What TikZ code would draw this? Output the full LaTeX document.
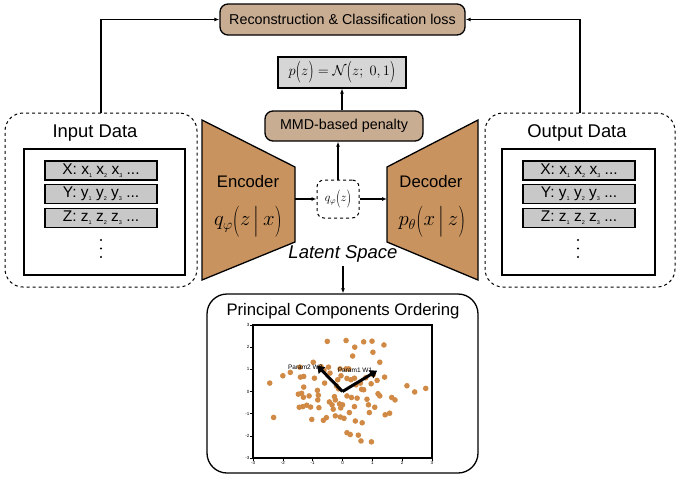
\documentclass[tikz,border=0pt]{standalone}
\usepackage{fontspec}
\setmainfont{Liberation Sans}
\setsansfont{Liberation Sans}
\usepackage{graphicx}
\usetikzlibrary{arrows.meta}
\definecolor{tanbox}{HTML}{C9AD93}
\definecolor{encfill}{HTML}{C9935F}
\definecolor{rowgray}{HTML}{C8C8C8}
\definecolor{dotc}{HTML}{D08A45}
\definecolor{pzgray}{HTML}{D6D6D6}
\newcommand{\mysb}[1]{\raisebox{-3pt}{\fontsize{5.5}{5.5}\selectfont #1}}
\newcommand{\tdel}[1]{\mathord{\raisebox{-0.35ex}{\scalebox{1}[1.5]{$#1$}}}}
\begin{document}
\begin{tikzpicture}[x=1pt,y=-1pt,
  arr/.style={-{Latex[length=5pt,width=4pt]}, line width=1.2pt},
  tanstyle/.style={draw, line width=1.3pt, fill=tanbox, rounded corners=8pt, font=\fontsize{14.3}{16}\selectfont},
  dashbox/.style={draw, dashed, line width=1pt, rounded corners=18pt},
  innerbox/.style={draw, line width=2.2pt, fill=white},
  rowbox/.style={draw, line width=1.2pt, fill=rowgray, minimum width=112pt, minimum height=19pt, inner sep=0pt, font=\fontsize{15.5}{16}\selectfont},
  titletext/.style={font=\fontsize{18.4}{20}\selectfont},
  bigmath/.style={font=\fontsize{21}{24}\selectfont}
]
\useasboundingbox (0,0) rectangle (680,480);

% top loss box
\node[tanstyle, minimum width=245pt, minimum height=31pt, inner sep=0pt] (loss) at (342.5,19.5) {Reconstruction \& Classification loss};
% prior box
\node[draw, line width=1.2pt, fill=pzgray, minimum width=128pt, minimum height=31pt, inner sep=0pt] (pz) at (342,72.5)
  {\fontsize{14}{16}\selectfont $p\tdel{(}z\tdel{)}=\mathcal{N}\tdel{(}z;\ 0,1\tdel{)}$};
% MMD box
\node[tanstyle, minimum width=158pt, minimum height=30pt, inner sep=0pt] (mmd) at (344,126) {MMD-based penalty};

% input data
\node[dashbox, minimum width=192pt, minimum height=174pt] (inbox) at (101,200) {};
\node[titletext] (intitle) at (95,133) {Input Data};
\node[innerbox, minimum width=161pt, minimum height=126pt] (ininner) at (104.5,212) {};
\node[rowbox] (inx) at (101,170.5) {X: x\mysb{1} x\mysb{2} x\mysb{3} ...};
\node[rowbox] (iny) at (101,194) {Y: y\mysb{1} y\mysb{2} y\mysb{3} ...};
\node[rowbox] (inz) at (101,218) {Z: z\mysb{1} z\mysb{2} z\mysb{3} ...};
\foreach \yy in {240,248.5,257} \fill (101,\yy) circle[radius=1.1pt];

% output data
\node[dashbox, minimum width=190pt, minimum height=174pt] (outbox) at (580,200) {};
\node[titletext] (outtitle) at (577,133) {Output Data};
\node[innerbox, minimum width=153pt, minimum height=126pt] (outinner) at (578.5,212) {};
\node[rowbox] (outx) at (579,170.5) {X: x\mysb{1} x\mysb{2} x\mysb{3} ...};
\node[rowbox] (outy) at (579,194) {Y: y\mysb{1} y\mysb{2} y\mysb{3} ...};
\node[rowbox] (outz) at (579,218) {Z: z\mysb{1} z\mysb{2} z\mysb{3} ...};
\foreach \yy in {240,248.5,257} \fill (578,\yy) circle[radius=1.1pt];

% encoder / decoder
\draw[fill=encfill, line width=1.3pt] (202,120) -- (295,167) -- (295,242) -- (202,280) -- cycle;
\draw[fill=encfill, line width=1.3pt] (478,120) -- (387,167) -- (387,242) -- (478,280) -- cycle;
\coordinate (encR) at (295,199);
\coordinate (decL) at (387,199);
\node[font=\fontsize{16.7}{18}\selectfont] (enclbl) at (248,182) {Encoder};
\node[bigmath] (encmath) at (248,222) {$q_{\varphi}\tdel{(}z\,\tdel{|}\,x\tdel{)}$};
\node[font=\fontsize{16.7}{18}\selectfont] (declbl) at (431,182) {Decoder};
\node[bigmath] (decmath) at (432,222) {$p_{\theta}\tdel{(}x\,\tdel{|}\,z\tdel{)}$};

% latent
\node[draw, dashed, line width=1pt, rounded corners=7pt, minimum width=42pt, minimum height=38pt, inner sep=0pt] (q) at (338,199)
  {\fontsize{12}{14}\selectfont $q_{\varphi}\tdel{(}z\tdel{)}$};
\node[font=\fontsize{18.5}{21}\selectfont\itshape] (latent) at (343,254) {Latent Space};

% PCO box
\node[draw, line width=1.3pt, rounded corners=20pt, minimum width=271pt, minimum height=179pt] (pco) at (342.5,383.5) {};
\node[font=\fontsize{16.7}{18}\selectfont] (pcotitle) at (343,311) {Principal Components Ordering};

% connectors
\draw[arr] (inbox.north) |- (loss.west);
\draw[arr] (outbox.north) |- (loss.east);
\draw[arr] (mmd.north -| pz.south) -- (pz.south);
\draw[arr] (q.north) -- (q.north |- mmd.south);
\draw[arr] (encR) -- (q.west);
\draw[arr] (q.east) -- (decL);
\draw[arr] (latent.south) -- (latent.south |- pco.north);

% scatter plot
\begin{scope}[shift={(342.5pt,-391.5pt)}, x=29.83pt, y=22.17pt]
  \draw[line width=1.3pt] (-3,-3) rectangle (3,3);
  \foreach \t in {-3,...,3} {
    \draw[line width=0.4pt] (\t,-3) -- (\t,-3.12);
    \node[font=\fontsize{4.5}{5}\selectfont, inner sep=0.5pt, anchor=north] at (\t,-3.12) {\t};
    \draw[line width=0.4pt] (-3,\t) -- (-3.1,\t);
    \node[font=\fontsize{4.5}{5}\selectfont, inner sep=0.5pt, anchor=east] at (-3.1,\t) {\t};
  }
  \foreach \a/\b in {
   -2.44/0.38, -2.31/-1.17, -2.0/0.71, -1.75/0.86, -1.43/1.1, -1.41/0.65, -1.3/0.2,
   -1.37/-0.08, -1.48/-0.12, -1.45/-0.71, -1.33/-0.68, -1.31/-0.26, -1.12/-0.2,
   -1.07/-0.7, -1.03/-1.26, -0.98/1.32, -0.94/0.6, -0.84/0.05, -0.81/-0.17,
   -0.83/-0.38, -0.79/-0.73, -0.72/1.12, -0.6/0.38, -0.64/-1.3, -0.54/-1.18,
   -0.51/2.26, -0.47/1.1, -0.42/0.83, -0.44/-0.47, -0.35/-0.6, -0.27/-0.23,
   -0.24/-0.38, -0.31/-0.8, -0.24/-1.1, -0.16/0.53, -0.13/0.12, -0.08/1.02,
   -0.05/0.71, -0.1/-0.56, -0.06/-0.74, 0.0/-0.6, -0.07/-1.15, 0.05/-1.21,
   0.12/2.3, 0.12/1.02, 0.21/1.02, 0.15/0.59, 0.15/-0.2, 0.23/-0.95, 0.15/-1.86,
   0.26/-1.94, 0.34/1.6, 0.41/2.0, 0.4/0.6, 0.3/-0.27, 0.4/-0.68, 0.43/-1.33,
   0.49/-0.3, 0.53/-1.97, 0.62/-2.23, 0.6/0.38, 0.64/0.1, 0.71/2.24, 0.71/0.08,
   0.66/-1.41, 0.82/-0.35, 0.87/-0.6, 0.9/-0.95, 0.96/0.35, 0.99/2.27, 0.97/-2.27,
   1.02/1.77, 1.03/0.76, 1.08/-0.71, 1.16/0.5, 1.25/1.32, 1.19/-0.1, 1.25/-0.2,
   1.39/2.1, 1.41/0.65, 1.43/-1.05, 1.58/-0.98, 1.65/-0.27, 1.76/-0.38, 2.16/0.26,
   2.42/-0.02, 2.79/0.14, 0.28/0.53, -1.3/0.68, -0.62/0.95, -1.2/-0.62, 0.45/0.3,
   -0.2/0.25, 0.78/0.62}
    \fill[dotc] (\a,\b) circle[radius=2.8pt];
  \node[font=\fontsize{6.5}{7}\selectfont, inner sep=0pt] (p2lbl) at (-1.25,1.1) {Param2 W2};
  \node[font=\fontsize{6.5}{7}\selectfont, inner sep=0pt] (p1lbl) at (0.42,0.95) {Param1 W1};
  \draw[line width=3pt, -{Triangle[length=7pt,width=9pt]}] (0,0) -- (-0.85,1.17);
  \draw[line width=3pt, -{Triangle[length=7pt,width=9pt]}] (0,0) -- (1.16,0.94);
\end{scope}
\end{tikzpicture}
\end{document}
